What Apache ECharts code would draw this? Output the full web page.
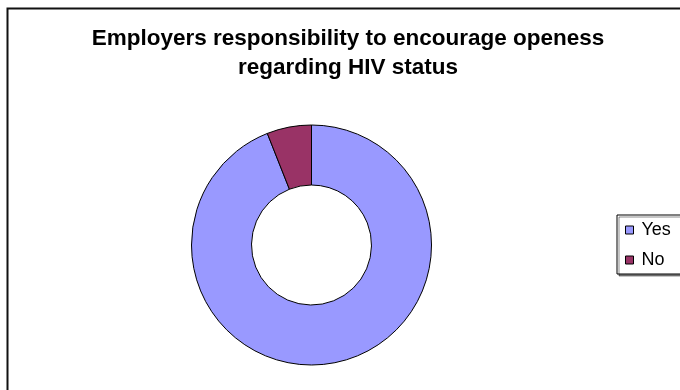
<!DOCTYPE html>
<html>
<head>
<meta charset="utf-8">
<script src="https://cdn.jsdelivr.net/npm/echarts@6/dist/echarts.min.js"></script>
<style>html,body{margin:0;padding:0;background:#fff;}#c{width:680px;height:390px;}</style>
</head>
<body>
<div id="c"></div>
<script>
var titleText = 'Employers responsibility to encourage openess\nregarding HIV status';
var categories = ['Yes', 'No'];
var values = [94, 6];
var colors = ['#9999FF', '#993366'];

var chart = echarts.init(document.getElementById('c'), null, {renderer: 'canvas'});
var data = categories.map(function (c, i) {
  return {name: c, value: values[i], itemStyle: {color: colors[i]}};
});
chart.setOption({
  animation: false,
  backgroundColor: '#fff',
  title: {
    text: titleText,
    left: 348,
    top: 24,
    textAlign: 'center',
    padding: 0,
    textStyle: {fontFamily: 'Liberation Sans, Arial', fontSize: 22.5, fontWeight: 'bold', color: '#000', lineHeight: 29}
  },
  legend: {
    orient: 'vertical',
    left: 617,
    top: 215,
    padding: [5, 10, 4, 8],
    itemGap: 10,
    itemWidth: 8,
    itemHeight: 8,
    icon: 'rect',
    borderColor: '#000',
    borderWidth: 1,
    backgroundColor: '#fff',
    shadowColor: 'rgba(0,0,0,0.45)',
    shadowOffsetX: 2,
    shadowOffsetY: 2,
    shadowBlur: 0,
    itemStyle: {borderColor: '#000', borderWidth: 1},
    textStyle: {fontFamily: 'Liberation Sans, Arial', fontSize: 18, color: '#000', padding: [0, 0, 0, 3], lineHeight: 20},
    data: categories
  },
  graphic: [{
    type: 'rect',
    z: -10,
    shape: {x: 7.5, y: 8.5, width: 700, height: 400},
    style: {fill: 'none', stroke: '#111', lineWidth: 2}
  }],
  series: [{
    type: 'pie',
    center: [311.5, 245],
    radius: [60, 120],
    startAngle: 90,
    clockwise: true,
    label: {show: false},
    labelLine: {show: false},
    emphasis: {disabled: true},
    itemStyle: {borderColor: '#000', borderWidth: 1},
    data: data
  }]
});
</script>
</body>
</html>
